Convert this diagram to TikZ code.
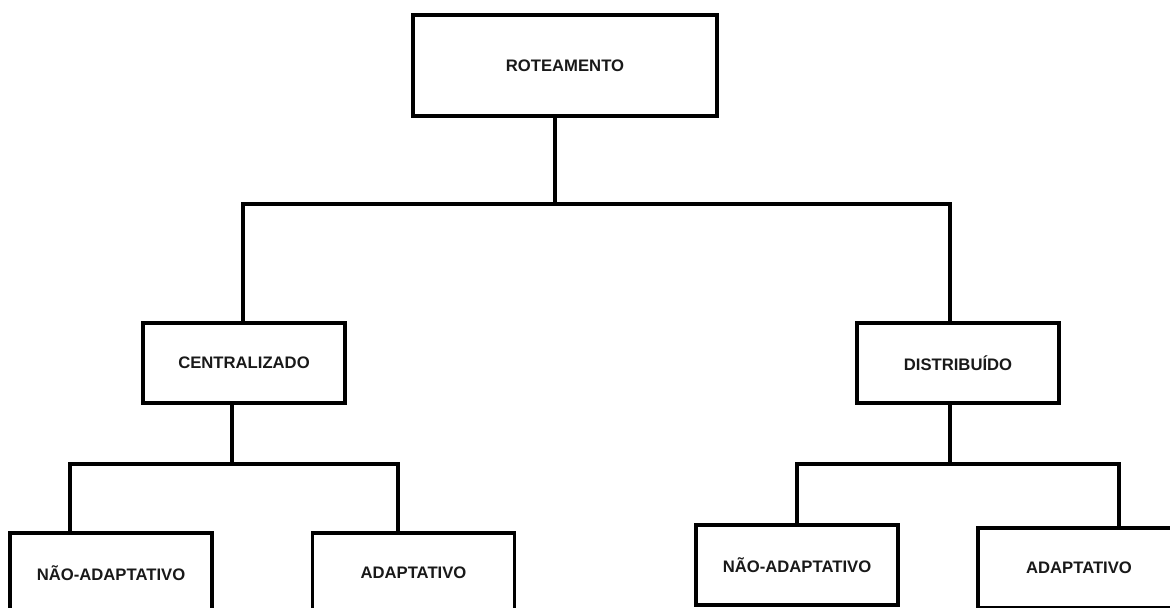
\documentclass[tikz,border=0pt]{standalone}
\usepackage{fontspec}
\setmainfont{Liberation Sans}
\begin{document}
\begin{tikzpicture}[x=0.75pt,y=-0.75pt,
  box/.style={draw=black, line width=2.6pt, fill=white, inner sep=0pt,
    minimum width=151.5pt, minimum height=60pt,
    font=\fontsize{12.5}{14}\selectfont\bfseries, text=black!90},
  rootbox/.style={box, minimum width=228pt, minimum height=75.75pt},
  link/.style={draw=black, line width=2.6pt, line cap=rect}]
\clip (0,0) rectangle (1170,607);
\useasboundingbox (0,0) rectangle (1170,607);

% hierarchy boxes
\node[rootbox] (root) at (565,65.5) {ROTEAMENTO};
\node[box] (cen) at (244,363) {CENTRALIZADO};
\node[box] (dis) at (958,363) {DISTRIBUÍDO};
\node[box] (lna) at (111,573) {NÃO-ADAPTATIVO};
\node[box] (lad) at (413.5,573) {ADAPTATIVO};
\node[box] (rna) at (797,565) {NÃO-ADAPTATIVO};
\node[box] (rad) at (1079,568) {ADAPTATIVO};

% junction points of the tree lines
\coordinate (j0) at (555,204);
\coordinate (j0l) at (243,204);
\coordinate (j0r) at (950,204);
\coordinate (j1) at (232,464);
\coordinate (j1l) at (70,464);
\coordinate (j1r) at (398,464);
\coordinate (j2) at (950,464);
\coordinate (j2l) at (797,464);
\coordinate (j2r) at (1119,464);

% first level
\draw[link] (j0 |- root.south) -- (j0);
\draw[link] (j0l |- cen.north) -- (j0l) -- (j0r) -- (j0r |- dis.north);

% centralised branch
\draw[link] (j1 |- cen.south) -- (j1);
\draw[link] (j1l |- lna.north) -- (j1l) -- (j1r) -- (j1r |- lad.north);

% distributed branch
\draw[link] (j2 |- dis.south) -- (j2);
\draw[link] (j2l |- rna.north) -- (j2l) -- (j2r) -- (j2r |- rad.north);
\end{tikzpicture}
\end{document}
